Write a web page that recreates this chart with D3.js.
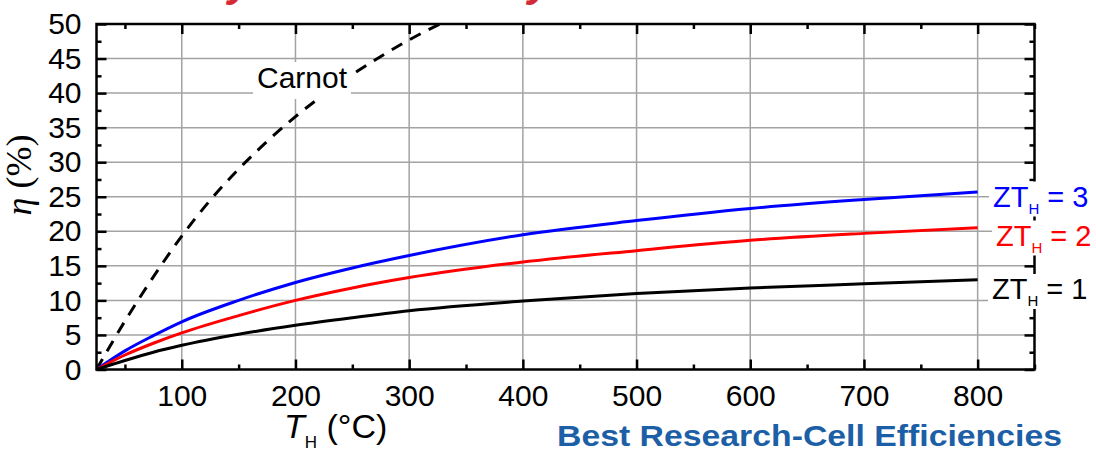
<!DOCTYPE html>
<html>
<head>
<meta charset="utf-8">
<script src="https://cdn.jsdelivr.net/npm/d3@7"></script>
<style>
  body { margin: 0; background: #fff; }
  svg { display: block; }
  text { font-family: "Liberation Sans", Arial, sans-serif; }
</style>
</head>
<body>
<svg id="chart" width="1096" height="454"></svg>
<script>
// values (T in °C, efficiency in %)
var temps = [25, 50, 75, 100, 150, 200, 250, 300, 400, 500, 600, 700, 800];
var zt1 = [0, 1.3, 2.5, 3.5, 5.1, 6.4, 7.5, 8.5, 9.9, 11.0, 11.8, 12.4, 13.0];
var zt2 = [0, 2.1, 3.8, 5.3, 7.8, 10.0, 11.8, 13.3, 15.55, 17.2, 18.7, 19.7, 20.5];
var zt3 = [0, 2.7, 4.9, 6.9, 10.0, 12.6, 14.7, 16.5, 19.5, 21.55, 23.3, 24.6, 25.7];

var carnotT = [25, 50, 75, 100, 125, 150, 175, 200, 225, 250, 275, 300, 327];
var carnotEta = [0, 7.0, 13.4, 19.3, 24.5, 29.0, 33.0, 36.6, 39.8, 42.7, 45.3, 47.7, 50];

var xMajor = [100, 200, 300, 400, 500, 600, 700, 800];
var xMinor = [50, 150, 250, 350, 450, 550, 650, 750, 850];
var yMajor = [0, 5, 10, 15, 20, 25, 30, 35, 40, 45, 50];
var yMinor = [2.5, 7.5, 12.5, 17.5, 22.5, 27.5, 32.5, 37.5, 42.5, 47.5];

var seriesNames = ["3", "2", "1"];
var seriesColors = ["#0000ff", "#ff0000", "#000000"];
var seriesValues = [zt3, zt2, zt1];

var svg = d3.select("#chart");
var pLeft = 96.5, pRight = 1034.5, pTop = 24, pBottom = 369.5;

var x = d3.scaleLinear().domain([25, 850]).range([pLeft, pRight]);
var y = d3.scaleLinear().domain([0, 50]).range([pBottom, pTop]);

svg.append("rect").attr("width", 1096).attr("height", 454).attr("fill", "#fff");

// cut-off red title remnants at the very top
[240, 540].forEach(function(px) {
    svg.append("text").attr("x", px).attr("y", -4)
        .attr("font-size", 44).attr("font-weight", "bold").attr("font-style", "italic")
        .attr("fill", "#d42a35").attr("text-anchor", "middle").text("y");
});

svg.append("defs").append("clipPath").attr("id", "plotClip")
    .append("rect").attr("x", pLeft).attr("y", pTop)
    .attr("width", pRight - pLeft).attr("height", pBottom - pTop);

// grid
var grid = svg.append("g").attr("stroke", "#a3a3a3").attr("stroke-width", 1.5);
grid.selectAll(".gx").data(xMajor).enter().append("line")
    .attr("x1", function(d) { return x(d); }).attr("x2", function(d) { return x(d); })
    .attr("y1", pTop).attr("y2", pBottom);
grid.selectAll(".gy").data(yMajor.slice(1, -1)).enter().append("line")
    .attr("x1", pLeft).attr("x2", pRight)
    .attr("y1", function(d) { return y(d); }).attr("y2", function(d) { return y(d); });

// curves
var plot = svg.append("g").attr("clip-path", "url(#plotClip)");
var line = d3.line().curve(d3.curveMonotoneX);

plot.append("path")
    .attr("d", line(carnotT.map(function(t, i) { return [x(t), y(carnotEta[i])]; })))
    .attr("fill", "none").attr("stroke", "#000").attr("stroke-width", 3)
    .attr("stroke-dasharray", "12,9");

seriesValues.forEach(function(vals, i) {
    plot.append("path")
        .attr("d", line(temps.map(function(t, j) { return [x(t), y(vals[j])]; })))
        .attr("fill", "none").attr("stroke", seriesColors[i]).attr("stroke-width", 3);
});

// axes with inward ticks
function styleAxis(g) {
    g.select(".domain").remove();
    g.selectAll(".tick line").attr("stroke", "#000").attr("stroke-width", 2.5);
    g.selectAll(".tick text").attr("font-size", 30).attr("fill", "#000")
        .attr("font-family", "Liberation Sans, Arial, sans-serif");
}

svg.append("g").attr("transform", "translate(0," + pBottom + ")")
    .call(d3.axisBottom(x).tickValues(xMajor).tickSize(-10).tickPadding(15)).call(styleAxis);
svg.append("g").attr("transform", "translate(0," + pBottom + ")")
    .call(d3.axisBottom(x).tickValues(xMinor).tickSize(-5).tickFormat("")).call(styleAxis);
svg.append("g").attr("transform", "translate(0," + pTop + ")")
    .call(d3.axisTop(x).tickValues(xMajor).tickSize(-10).tickFormat("")).call(styleAxis);
svg.append("g").attr("transform", "translate(0," + pTop + ")")
    .call(d3.axisTop(x).tickValues(xMinor).tickSize(-5).tickFormat("")).call(styleAxis);

svg.append("g").attr("transform", "translate(" + pLeft + ",0)")
    .call(d3.axisLeft(y).tickValues(yMajor).tickSize(-10).tickPadding(15)).call(styleAxis);
svg.append("g").attr("transform", "translate(" + pLeft + ",0)")
    .call(d3.axisLeft(y).tickValues(yMinor).tickSize(-5).tickFormat("")).call(styleAxis);
svg.append("g").attr("transform", "translate(" + pRight + ",0)")
    .call(d3.axisRight(y).tickValues(yMajor).tickSize(-10).tickFormat("")).call(styleAxis);
svg.append("g").attr("transform", "translate(" + pRight + ",0)")
    .call(d3.axisRight(y).tickValues(yMinor).tickSize(-5).tickFormat("")).call(styleAxis);

svg.append("rect").attr("x", pLeft).attr("y", pTop)
    .attr("width", pRight - pLeft).attr("height", pBottom - pTop)
    .attr("fill", "none").attr("stroke", "#000").attr("stroke-width", 2.5);

// Carnot label
svg.append("rect").attr("x", 253).attr("y", 62).attr("width", 98).attr("height", 37).attr("fill", "#fff");
svg.append("text").attr("x", 302).attr("y", 88).attr("text-anchor", "middle")
    .attr("font-size", 30).attr("fill", "#000").text("Carnot");

// ZT_H labels at the right end
var labelBase = [206.5, 245.5, 299];
var labelLeft = [993, 996, 992];
seriesNames.forEach(function(n, i) {
    svg.append("rect").attr("x", labelLeft[i] - 4).attr("y", labelBase[i] - 25)
        .attr("width", 1096 - labelLeft[i] + 4).attr("height", 35).attr("fill", "#fff");
    var t = svg.append("text").attr("x", labelLeft[i]).attr("y", labelBase[i])
        .attr("font-size", 29).attr("fill", seriesColors[i]);
    t.append("tspan").text("ZT");
    t.append("tspan").attr("font-size", 15).attr("dy", 7).text("H");
    t.append("tspan").attr("dy", -7).text(" = " + n);
});

// axis titles
var xt = svg.append("text").attr("x", 284).attr("y", 438).attr("font-size", 34).attr("fill", "#000");
xt.append("tspan").attr("font-style", "italic").text("T");
xt.append("tspan").attr("font-size", 17).attr("dy", 10).text("H");
xt.append("tspan").attr("dy", -10).text(" (°C)");

var yt = svg.append("text").attr("transform", "translate(31,175) rotate(-90)")
    .attr("text-anchor", "middle").attr("font-size", 36).attr("fill", "#000")
    .style("font-family", "Liberation Serif, Times New Roman, serif");
yt.append("tspan").attr("font-style", "italic").text("η");
yt.append("tspan").text(" (%)");

svg.append("text").attr("x", 557).attr("y", 446).attr("font-size", 30)
    .attr("textLength", 505).attr("lengthAdjust", "spacingAndGlyphs")
    .attr("font-weight", "bold").attr("fill", "#1d5fa6").text("Best Research-Cell Efficiencies");
</script>
</body>
</html>
